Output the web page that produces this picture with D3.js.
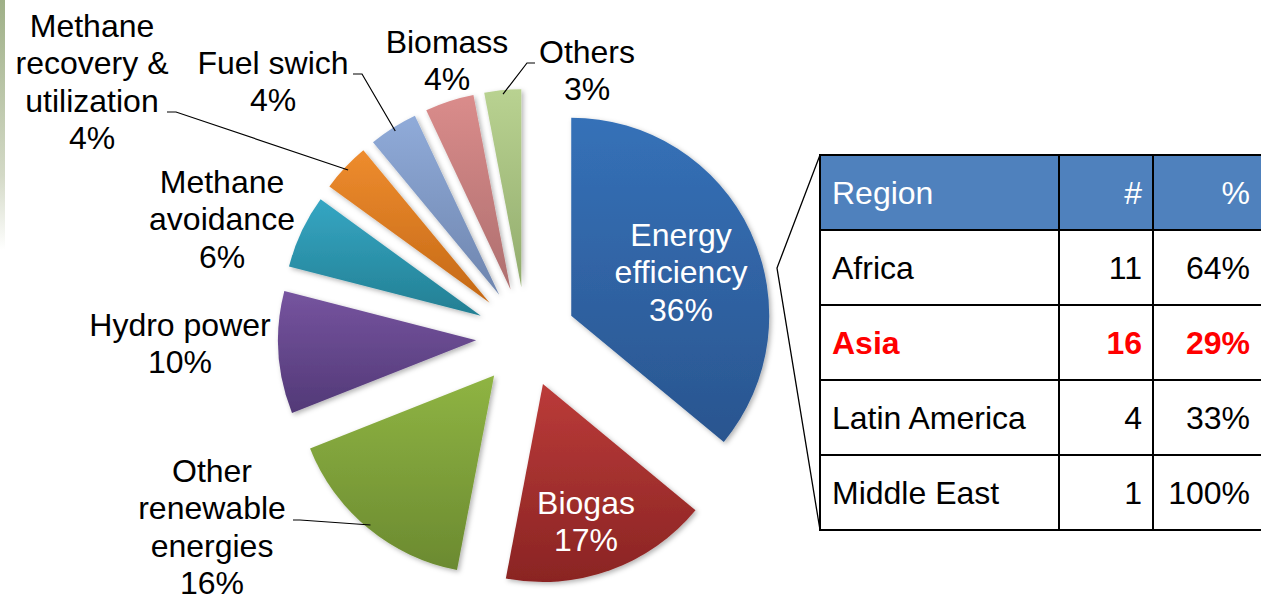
<!DOCTYPE html>
<html>
<head>
<meta charset="utf-8">
<script src="https://cdn.jsdelivr.net/npm/d3@7"></script>
<style>
  body { margin: 0; background: #fff; }
  svg { display: block; font-family: "Liberation Sans", Arial, sans-serif; }
</style>
</head>
<body>
<div id="chart"></div>
<script>
// Project types (share of projects, %)
const categories = ['Energy efficiency', 'Biogas', 'Other renewable energies', 'Hydro power',
  'Methane avoidance', 'Methane recovery & utilization', 'Fuel swich', 'Biomass', 'Others'];
const values = [36, 17, 16, 10, 6, 4, 4, 4, 3];
const labelLines = [
  ['Energy', 'efficiency'], ['Biogas'], ['Other', 'renewable', 'energies'], ['Hydro power'],
  ['Methane', 'avoidance'], ['Methane', 'recovery &', 'utilization'], ['Fuel swich'], ['Biomass'], ['Others']
];
const colorsTop = ['#3571b8', '#bb3b39', '#8fb443', '#76549f', '#35a6c3', '#ee8c2e', '#90abd9', '#da8c8b', '#b9d291'];
const colorsBottom = ['#2a558f', '#8a2423', '#6b8a30', '#523977', '#237f93', '#c56916', '#6e85ae', '#ae6f6f', '#92ac6d'];

// Energy efficiency by region
const regions = ['Africa', 'Asia', 'Latin America', 'Middle East'];
const counts = [11, 16, 4, 1];
const shares = ['64%', '29%', '33%', '100%'];
const highlightRegion = 'Asia';

const W = 1261, H = 597;
const cx = 526, cy = 337, radius = 198, explode = 50;
const fontSize = 32, lineH = 37.3;

// label layout: centre x, first baseline, text colour, optional leader [start, elbow]
const labelLayout = [
  { x: 681, y: 246, fill: '#fff' },
  { x: 586, y: 514, fill: '#fff' },
  { x: 212, y: 482, fill: '#000', leader: [[293, 520], [300, 520]] },
  { x: 180, y: 336, fill: '#000' },
  { x: 222, y: 193, fill: '#000' },
  { x: 92, y: 37, fill: '#000', leader: [[167, 112], [176, 112]] },
  { x: 273, y: 74, fill: '#000', leader: [[353, 74], [362, 74]] },
  { x: 447, y: 53, fill: '#000' },
  { x: 587, y: 63, fill: '#000', leader: [[535, 63], [527, 63]] }
];

const svg = d3.select('#chart').append('svg')
  .attr('width', W)
  .attr('height', H);

const defs = svg.append('defs');

// left edge decoration
const strip = defs.append('linearGradient')
  .attr('id', 'strip').attr('x1', 0).attr('y1', 0).attr('x2', 0).attr('y2', 1);
strip.append('stop').attr('offset', '0%').attr('stop-color', '#9fb087');
strip.append('stop').attr('offset', '70%').attr('stop-color', '#d3d9c6');
strip.append('stop').attr('offset', '100%').attr('stop-color', '#ffffff');
svg.append('rect').attr('x', 0).attr('y', 0).attr('width', 5).attr('height', 250).attr('fill', 'url(#strip)');

const shadow = defs.append('filter').attr('id', 'shadow')
  .attr('x', '-20%').attr('y', '-20%').attr('width', '140%').attr('height', '140%');
shadow.append('feDropShadow')
  .attr('dx', 2).attr('dy', 2).attr('stdDeviation', 2.5)
  .attr('flood-color', '#000').attr('flood-opacity', 0.3);

categories.forEach((c, i) => {
  const g = defs.append('linearGradient')
    .attr('id', 'grad' + i).attr('x1', 0).attr('y1', 0).attr('x2', 0).attr('y2', 1);
  g.append('stop').attr('offset', '0%').attr('stop-color', colorsTop[i]);
  g.append('stop').attr('offset', '100%').attr('stop-color', colorsBottom[i]);
});

const pie = d3.pie().sort(null).value((d) => d);
const arcs = pie(values);
const arc = d3.arc().innerRadius(0).outerRadius(radius);

// offset of an exploded slice
const shift = (d) => {
  const a = (d.startAngle + d.endAngle) / 2;
  return [explode * Math.sin(a), -explode * Math.cos(a)];
};

const pieG = svg.append('g').attr('transform', `translate(${cx},${cy})`);

pieG.selectAll('path.slice')
  .data(arcs)
  .enter()
  .append('path')
  .attr('class', 'slice')
  .attr('transform', (d) => `translate(${shift(d)})`)
  .attr('d', arc)
  .attr('fill', (d, i) => `url(#grad${i})`)
  .attr('filter', 'url(#shadow)');

// leader lines to the outer edge of slices
arcs.forEach((d, i) => {
  const lay = labelLayout[i];
  if (!lay.leader) return;
  const a = (d.startAngle + d.endAngle) / 2;
  const [sx, sy] = shift(d);
  const end = [cx + sx + (radius - 4) * Math.sin(a), cy + sy - (radius - 4) * Math.cos(a)];
  svg.append('path')
    .attr('d', d3.line()([lay.leader[0], lay.leader[1], end]))
    .attr('fill', 'none')
    .attr('stroke', '#000')
    .attr('stroke-width', 1.2);
});

// labels
arcs.forEach((d, i) => {
  const lay = labelLayout[i];
  const lines = labelLines[i].concat([values[i] + '%']);
  const t = svg.append('text')
    .attr('text-anchor', 'middle')
    .attr('font-size', fontSize)
    .attr('fill', lay.fill);
  lines.forEach((ln, k) => {
    t.append('tspan').attr('x', lay.x).attr('y', lay.y + k * lineH).text(ln);
  });
});

// table
const colX = [820, 1059, 1153, 1266];
const rowY = d3.range(regions.length + 2).map((k) => 155 + k * 75);
const tableG = svg.append('g');

tableG.append('rect')
  .attr('x', colX[0]).attr('y', rowY[0])
  .attr('width', colX[3] - colX[0]).attr('height', rowY[1] - rowY[0])
  .attr('fill', '#4f81bd');

rowY.forEach((y) => {
  tableG.append('line')
    .attr('x1', colX[0] - 1).attr('x2', colX[3])
    .attr('y1', y).attr('y2', y)
    .attr('stroke', '#000').attr('stroke-width', 2);
});
colX.slice(0, 3).forEach((x) => {
  tableG.append('line')
    .attr('x1', x).attr('x2', x)
    .attr('y1', rowY[0]).attr('y2', rowY[rowY.length - 1])
    .attr('stroke', '#000').attr('stroke-width', 2);
});

const cellText = (row, texts, opts) => {
  const base = (rowY[row] + rowY[row + 1]) / 2 + 11.5;
  const cells = [
    { x: colX[0] + 12, anchor: 'start' },
    { x: colX[2] - 11, anchor: 'end' },
    { x: colX[2] + 97, anchor: 'end' }
  ];
  texts.forEach((s, k) => {
    tableG.append('text')
      .attr('x', cells[k].x).attr('y', base)
      .attr('text-anchor', cells[k].anchor)
      .attr('font-size', fontSize)
      .attr('font-weight', opts.bold ? 'bold' : 'normal')
      .attr('fill', opts.fill)
      .text(s);
  });
};

cellText(0, ['Region', '#', '%'], { fill: '#fff' });
regions.forEach((r, i) => {
  const hi = r === highlightRegion;
  cellText(i + 1, [r, counts[i], shares[i]], { fill: hi ? '#ff0000' : '#000', bold: hi });
});

// zoom connector from the energy slice to the table
svg.append('path')
  .attr('d', d3.line()([[colX[0], rowY[0]], [777, 268], [colX[0], rowY[rowY.length - 1]]]))
  .attr('fill', 'none')
  .attr('stroke', '#000')
  .attr('stroke-width', 1.3);
</script>
</body>
</html>
